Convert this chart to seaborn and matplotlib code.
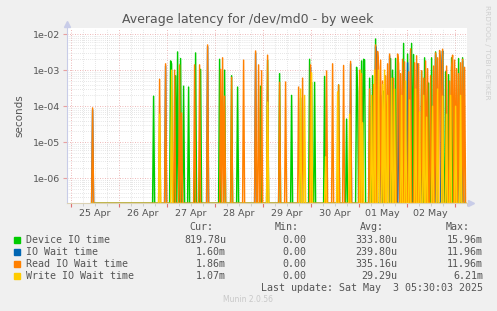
import numpy as np
import pandas as pd
import matplotlib
matplotlib.use("Agg")
import matplotlib.pyplot as plt
import seaborn as sns
from matplotlib.ticker import FixedLocator, LogLocator, FuncFormatter, NullFormatter
from matplotlib.patches import Rectangle

# ---------------- data (hours since 25 Apr 00:00, seconds) ----------------
day_labels = ["25 Apr", "26 Apr", "27 Apr", "28 Apr", "29 Apr", "30 Apr", "01 May", "02 May"]

device_hours = [41.5, 50, 50.5, 52.5, 53.5, 55, 56.5, 59, 62.5, 65, 74.5, 77, 80.5, 83.5, 95, 98.5,
                104.5, 110.5, 115, 119.5, 120.5, 122, 127, 134, 138, 143, 143.5, 145.5, 146.5, 147,
                149.5, 151, 152.5, 156.5, 160, 161, 162.5, 166.5, 168.5, 170.5, 171.5, 175.5, 177,
                179, 180.5, 182.5, 186, 187.5, 189, 190.5, 194, 196]
device_vals = [1.9e-4, 1.8e-3, 1.5e-3, 7e-4, 3.2e-3, 2.1e-3, 3.6e-4, 3.4e-4, 3e-3, 1.05e-3, 2e-3, 1e-3,
               7e-4, 3.4e-4, 3.6e-4, 1.9e-3, 8e-4, 2e-4, 1.7e-4, 2e-3, 4.6e-4, 4.6e-4, 6.7e-4, 3.9e-4,
               4.4e-5, 1.2e-3, 2.5e-4, 1.8e-3, 2e-3, 1.9e-3, 6e-4, 7e-4, 7.3e-3, 2.6e-4, 2.1e-3, 1e-3,
               2.1e-3, 5.5e-3, 2.8e-3, 5.5e-3, 2.7e-3, 9.3e-4, 2.2e-3, 4.4e-4, 2.2e-3, 3.2e-3, 3.4e-3,
               9e-4, 7.5e-4, 2.2e-3, 2.1e-3, 2.2e-3]

iowait_hours = [11, 47.5, 68.5, 92.5, 120, 140, 152.5, 153, 155, 159.5, 164, 168.5, 170, 173.5,
                182.5, 185.5, 186, 196]
iowait_vals = [8e-5, 1.3e-3, 4.5e-3, 3e-3, 1.2e-3, 1.5e-3, 4.5e-3, 1.5e-3, 2e-4, 2.5e-3, 1e-3,
               1.6e-3, 3.5e-3, 1.5e-3, 2.7e-3, 1e-3, 3.4e-3, 1.8e-3]

read_hours = [11, 44.5, 47.5, 52, 54.5, 55.5, 62, 64.5, 68.5, 75, 76, 77, 80.5, 86.5, 92.5, 94, 95.5,
              98.5, 104.5, 107.5, 114, 116, 120, 128, 131, 134, 136.5, 140, 144.5, 145.5, 149.5,
              151.5, 152.5, 153.5, 154, 155, 156, 157.5, 158.5, 159.5, 161.5, 163.5, 164, 165, 166,
              167, 169, 170, 172, 173, 174, 175.5, 176.5, 177.5, 178.5, 180, 181.5, 182.5, 183.5,
              184.5, 185, 186, 188, 189.5, 190.5, 191, 192, 193, 194, 195, 196, 197]
read_vals = [9e-5, 5.6e-4, 1.5e-3, 1e-3, 1.4e-3, 6.5e-5, 1.4e-3, 1.4e-3, 5e-3, 1.05e-3, 2.2e-3, 1.9e-4,
             6.3e-4, 1.9e-3, 3.4e-3, 1.4e-3, 9.6e-4, 2.6e-3, 4.6e-4, 4.7e-4, 3.4e-4, 6e-4, 1.4e-3,
             9.5e-4, 1.5e-3, 3.9e-4, 1.35e-3, 1.75e-3, 1e-3, 8e-4, 3e-4, 4e-4, 5e-3, 3.3e-3, 1.2e-3,
             1.9e-3, 5e-4, 7e-4, 1.5e-3, 2.8e-3, 6e-4, 2.8e-3, 1.5e-3, 8e-4, 2e-3, 1.7e-3, 9e-4,
             3.9e-3, 1.6e-3, 2.5e-3, 1.5e-3, 9.6e-4, 6e-4, 1.8e-3, 1.1e-3, 7e-4, 1.3e-3, 3e-3,
             2.2e-3, 3.5e-3, 1.5e-3, 3.8e-3, 1.3e-3, 5e-4, 1.2e-3, 2.6e-3, 1.9e-3, 1.1e-3, 8e-4,
             1.6e-3, 2e-3, 1.2e-3]

write_hours = [44.5, 50.5, 98.5, 115, 117, 120.5, 127.5, 133.5, 139.5, 145, 146, 150.5, 152, 154,
               156, 157, 158.5, 160.5, 162, 165.5, 167.5, 169.5, 172.5, 174.5, 176.5, 178, 181,
               183.5, 186, 188, 190, 192.5, 195]
write_vals = [6e-5, 1e-3, 1.3e-4, 3e-4, 2e-4, 8.5e-4, 4e-6, 2.5e-4, 6e-5, 1e-3, 3.5e-5, 2e-4, 1e-3,
              1e-3, 4e-4, 1e-3, 2e-4, 6e-4, 3e-4, 2e-4, 5e-4, 1.5e-4, 3e-4, 7e-5, 2e-4, 5e-5, 1e-4,
              3e-4, 1.9e-4, 6e-5, 2e-4, 1e-4, 2e-4]

series_names = ["Device IO time", "IO Wait time", "Read IO Wait time", "Write IO Wait time"]
series_colors = ["#00CC00", "#0066B3", "#FF8000", "#FFCC00"]
cur_vals = ["819.78u", "1.60m", "1.86m", "1.07m"]
min_vals = ["0.00", "0.00", "0.00", "0.00"]
avg_vals = ["333.80u", "239.80u", "335.16u", "29.29u"]
max_vals = ["15.96m", "11.96m", "11.96m", "6.21m"]

# ---------------- build the 30-minute series ----------------
T_START, T_END, STEP = 10.5, 197.5, 0.5
Y_BOTTOM, Y_TOP = 2.09e-7, 1.47e-2
Y_FLOOR = Y_BOTTOM * 0.975   # zero values sit just under the bottom edge (log scale)
t = np.arange(T_START, T_END + STEP / 2, STEP)


def build(hours, vals):
    s = np.zeros_like(t)
    idx = np.round((np.array(hours) - T_START) / STEP).astype(int)
    s[idx] = vals
    return np.where(s > 0, s, Y_FLOOR)


frames = []
for name, hrs, vals in zip(series_names,
                           [device_hours, iowait_hours, read_hours, write_hours],
                           [device_vals, iowait_vals, read_vals, write_vals]):
    frames.append(pd.DataFrame({"h": t, "value": build(hrs, vals), "series": name}))
df = pd.concat(frames, ignore_index=True)

# ---------------- figure ----------------
W, H = 497, 311
BG = "#F0F0F0"
TXT = "#555555"
fig = plt.figure(figsize=(W / 100, H / 100), dpi=100, facecolor=BG)
ax = fig.add_axes([67 / W, 1 - 203 / H, 400 / W, 175 / H])
ax.set_facecolor("white")
ax.set_yscale("log")

sns.lineplot(data=df, x="h", y="value", hue="series", hue_order=series_names,
             palette=series_colors, estimator=None, sort=False, linewidth=1.05,
             legend=False, ax=ax)

ax.set_xlim(-1.8, 198.2)
ax.set_ylim(Y_BOTTOM, Y_TOP)
ax.set_xlabel("")
ax.set_ylabel("seconds", color=TXT, fontsize=7.5, labelpad=6)

# grids
ax.set_axisbelow(True)
ax.xaxis.set_major_locator(FixedLocator(np.arange(0, 200, 24)))
ax.xaxis.set_minor_locator(FixedLocator(np.arange(0, 200, 6)))
ax.yaxis.set_major_locator(LogLocator(base=10, numticks=12))
ax.yaxis.set_minor_locator(LogLocator(base=10, subs=np.arange(2, 10), numticks=12))
ax.yaxis.set_major_formatter(FuncFormatter(lambda v, p: f"{v:.0e}"))
ax.yaxis.set_minor_formatter(NullFormatter())
ax.grid(which="major", color="#E8A0A0", linestyle=(0, (1, 2)), linewidth=0.6)
ax.grid(which="minor", color="#CFCFCF", linestyle=(0, (1, 2)), linewidth=0.5)

ax.tick_params(axis="x", which="major", length=3, color="#E07070", labelbottom=False)
ax.tick_params(axis="x", which="minor", length=2, color="#C8C8C8")
ax.tick_params(axis="y", which="major", length=3, color="#E8A0A0", labelsize=6.8,
               labelcolor=TXT, pad=2)
ax.tick_params(axis="y", which="minor", length=0)

sec = ax.secondary_xaxis("bottom")
sec.set_xticks(np.arange(12, 12 + 24 * len(day_labels), 24))
sec.set_xticklabels(day_labels)
sec.tick_params(length=0, labelsize=6.8, labelcolor=TXT, pad=4)
sec.spines["bottom"].set_visible(False)

for s in ["top", "right"]:
    ax.spines[s].set_visible(False)
ax.spines["left"].set_color("#C8CCE8")
ax.spines["left"].set_linewidth(0.8)
ax.spines["bottom"].set_color("#DCD2B4")
ax.spines["bottom"].set_linewidth(0.8)
ax.plot([0], [1.025], marker="^", markersize=4, color="#C8CCE8", transform=ax.transAxes,
        clip_on=False)
ax.plot([1.01], [0], marker=">", markersize=4, color="#C8CCE8", transform=ax.transAxes,
        clip_on=False)

# title and side text
fig.text(248 / W, 1 - 19 / H, "Average latency for /dev/md0 - by week", ha="center",
         va="center", fontsize=9, color=TXT)
fig.text(487 / W, 1 - 5 / H, "RRDTOOL / TOBI OETIKER", rotation=-90, ha="center", va="top",
         fontsize=5.3, color="#CFCFCF")

# legend table
mono = "DejaVu Sans Mono"
fs = 7.2
row_y = [240, 252, 264, 276]
fig.text(213 / W, 1 - 227 / H, "Cur:", ha="right", va="center", family=mono, fontsize=fs, color=TXT)
fig.text(299 / W, 1 - 227 / H, "Min:", ha="right", va="center", family=mono, fontsize=fs, color=TXT)
fig.text(384 / W, 1 - 227 / H, "Avg:", ha="right", va="center", family=mono, fontsize=fs, color=TXT)
fig.text(470 / W, 1 - 227 / H, "Max:", ha="right", va="center", family=mono, fontsize=fs, color=TXT)
for y, name, col, c, mn, av, mx in zip(row_y, series_names, series_colors, cur_vals, min_vals,
                                        avg_vals, max_vals):
    fig.patches.append(Rectangle((14 / W, 1 - (y + 3) / H), 6 / W, 6 / H, color=col,
                                 transform=fig.transFigure, figure=fig))
    fig.text(26 / W, 1 - y / H, name, ha="left", va="center", family=mono, fontsize=fs, color=TXT)
    fig.text(226 / W, 1 - y / H, c, ha="right", va="center", family=mono, fontsize=fs, color=TXT)
    fig.text(306 / W, 1 - y / H, mn, ha="right", va="center", family=mono, fontsize=fs, color=TXT)
    fig.text(397 / W, 1 - y / H, av, ha="right", va="center", family=mono, fontsize=fs, color=TXT)
    fig.text(483 / W, 1 - y / H, mx, ha="right", va="center", family=mono, fontsize=fs, color=TXT)

fig.text(483 / W, 1 - 288 / H, "Last update: Sat May  3 05:30:03 2025", ha="right", va="center",
         family=mono, fontsize=fs, color=TXT)
fig.text(248 / W, 1 - 300 / H, "Munin 2.0.56", ha="center", va="center", fontsize=5.5,
         color="#C8C8C8")

fig.savefig("out.png", dpi=100, facecolor=BG)
